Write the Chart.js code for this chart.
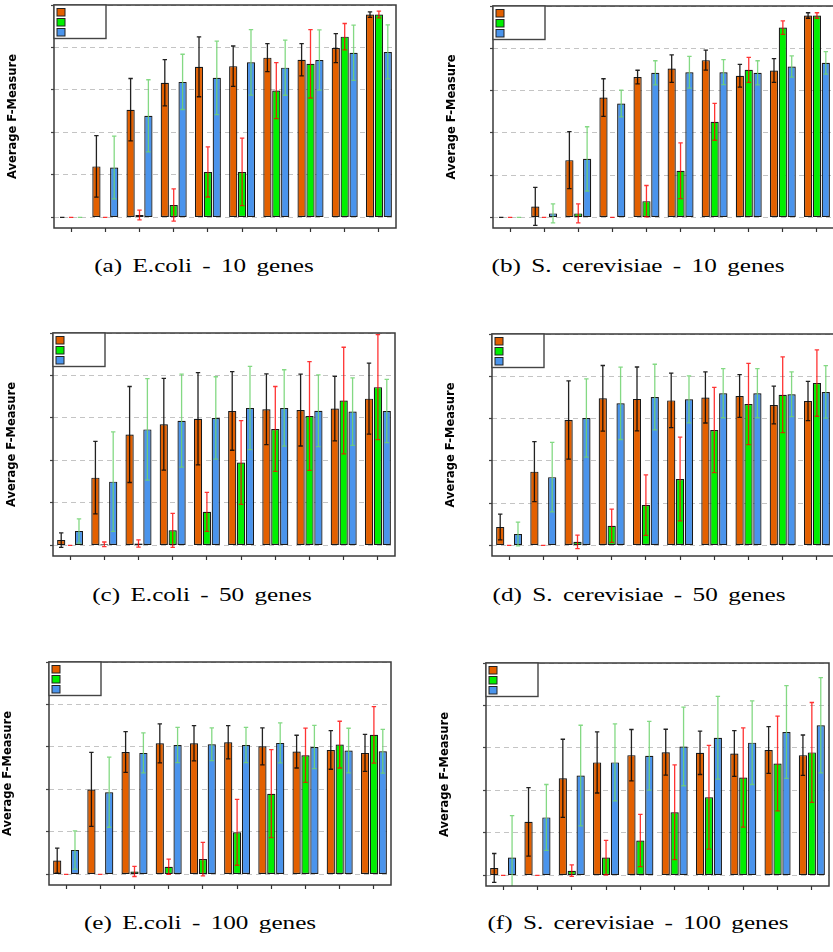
<!DOCTYPE html>
<html>
<head>
<meta charset="utf-8">
<script src="https://cdn.jsdelivr.net/npm/chart.js@4.4.1/dist/chart.umd.min.js"></script>
<style>
  html, body { margin: 0; padding: 0; background: #fff; width: 833px; height: 952px; overflow: hidden; }
  canvas { position: absolute; }
  .caption {
    position: absolute;
    font-family: "Liberation Serif", "Times New Roman", serif;
    font-size: 18.5px;
    line-height: 18.5px;
    word-spacing: 3px;
    color: #000;
    white-space: nowrap;
    transform: translateX(-50%) scaleX(1.36);
  }
</style>
</head>
<body>
<canvas id="pa"></canvas>
<canvas id="pb"></canvas>
<canvas id="pc"></canvas>
<canvas id="pd"></canvas>
<canvas id="pe"></canvas>
<canvas id="pf"></canvas>
<div class="caption" style="left:204px; top:257px;">(a) E.coli - 10 genes</div>
<div class="caption" style="left:638px; top:257px;">(b) S. cerevisiae - 10 genes</div>
<div class="caption" style="left:202px; top:586px;">(c) E.coli - 50 genes</div>
<div class="caption" style="left:639px; top:586px;">(d) S. cerevisiae - 50 genes</div>
<div class="caption" style="left:200px; top:914px;">(e) E.coli - 100 genes</div>
<div class="caption" style="left:638px; top:914px;">(f) S. cerevisiae - 100 genes</div>
<script>
// Ten test cases per panel (not labelled on the axis)
const categories = ['1', '2', '3', '4', '5', '6', '7', '8', '9', '10'];
const yTicks = [0, 0.2, 0.4, 0.6, 0.8, 1.0];
const yTitle = 'Average F-Measure';

// (a) E.coli - 10 genes
const ecoli10_A = [0, 0.24, 0.507, 0.634, 0.709, 0.712, 0.752, 0.742, 0.797, 0.955];
const ecoli10_A_sd = [0, 0.145, 0.147, 0.109, 0.141, 0.095, 0.066, 0.076, 0.068, 0.013];
const ecoli10_B = [0, 0, 0.011, 0.058, 0.214, 0.214, 0.597, 0.723, 0.851, 0.955];
const ecoli10_B_sd = [0, 0, 0.023, 0.076, 0.118, 0.159, 0.132, 0.161, 0.062, 0.016];
const ecoli10_C = [0, 0.235, 0.478, 0.638, 0.657, 0.73, 0.705, 0.741, 0.775, 0.779];
const ecoli10_C_sd = [0, 0.148, 0.17, 0.13, 0.173, 0.154, 0.13, 0.142, 0.13, 0.127];

// (b) S. cerevisiae - 10 genes
const yeast10_A = [0, 0.052, 0.271, 0.567, 0.664, 0.704, 0.744, 0.67, 0.695, 0.955];
const yeast10_A_sd = [0, 0.09, 0.135, 0.089, 0.032, 0.065, 0.047, 0.054, 0.056, 0.013];
const yeast10_B = [0, 0, 0.019, 0, 0.077, 0.221, 0.452, 0.698, 0.898, 0.955];
const yeast10_B_sd = [0, 0, 0.045, 0, 0.074, 0.132, 0.087, 0.059, 0.032, 0.013];
const yeast10_C = [0, 0.019, 0.277, 0.539, 0.684, 0.687, 0.687, 0.684, 0.714, 0.731];
const yeast10_C_sd = [0, 0.045, 0.152, 0.063, 0.057, 0.075, 0.059, 0.057, 0.05, 0.053];

// (c) E.coli - 50 genes
const ecoli50_A = [0.025, 0.319, 0.522, 0.57, 0.596, 0.633, 0.641, 0.637, 0.644, 0.691];
const ecoli50_A_sd = [0.034, 0.171, 0.226, 0.216, 0.217, 0.185, 0.167, 0.169, 0.152, 0.167];
const ecoli50_B = [0, 0.005, 0.009, 0.071, 0.158, 0.39, 0.548, 0.609, 0.682, 0.745];
const ecoli50_B_sd = [0, 0.011, 0.017, 0.08, 0.092, 0.197, 0.2, 0.256, 0.251, 0.247];
const ecoli50_C = [0.068, 0.3, 0.546, 0.587, 0.6, 0.647, 0.647, 0.634, 0.63, 0.633];
const ecoli50_C_sd = [0.057, 0.234, 0.239, 0.219, 0.194, 0.196, 0.18, 0.169, 0.159, 0.149];

// (d) S. cerevisiae - 50 genes
const yeast50_A = [0.087, 0.349, 0.593, 0.696, 0.693, 0.686, 0.7, 0.707, 0.664, 0.683];
const yeast50_A_sd = [0.061, 0.142, 0.185, 0.155, 0.151, 0.129, 0.121, 0.101, 0.089, 0.093];
const yeast50_B = [0, 0, 0.017, 0.093, 0.191, 0.314, 0.546, 0.669, 0.713, 0.768];
const yeast50_B_sd = [0, 0, 0.032, 0.079, 0.143, 0.198, 0.202, 0.192, 0.179, 0.157];
const yeast50_C = [0.054, 0.323, 0.603, 0.672, 0.702, 0.691, 0.72, 0.72, 0.715, 0.726];
const yeast50_C_sd = [0.056, 0.164, 0.185, 0.171, 0.155, 0.111, 0.116, 0.116, 0.106, 0.124];

// (e) E.coli - 100 genes
const ecoli100_A = [0.065, 0.4, 0.576, 0.617, 0.617, 0.622, 0.603, 0.578, 0.586, 0.572];
const ecoli100_A_sd = [0.059, 0.174, 0.096, 0.092, 0.083, 0.078, 0.087, 0.077, 0.091, 0.087];
const ecoli100_B = [0, 0, 0.014, 0.036, 0.072, 0.198, 0.38, 0.561, 0.611, 0.657];
const ecoli100_B_sd = [0, 0, 0.024, 0.036, 0.079, 0.155, 0.207, 0.128, 0.11, 0.133];
const ecoli100_C = [0.115, 0.387, 0.572, 0.609, 0.613, 0.609, 0.619, 0.6, 0.583, 0.58];
const ecoli100_C_sd = [0.09, 0.165, 0.094, 0.083, 0.077, 0.083, 0.094, 0.102, 0.105, 0.103];

// (f) S. cerevisiae - 100 genes
const yeast100_A = [0.035, 0.252, 0.457, 0.532, 0.566, 0.58, 0.577, 0.574, 0.59, 0.566];
const yeast100_A_sd = [0.068, 0.161, 0.184, 0.144, 0.121, 0.108, 0.102, 0.108, 0.11, 0.095];
const yeast100_B = [0, 0, 0.022, 0.084, 0.164, 0.297, 0.368, 0.461, 0.527, 0.579];
const yeast100_B_sd = [0, 0, 0.027, 0.081, 0.123, 0.223, 0.244, 0.234, 0.223, 0.235];
const yeast100_C = [0.084, 0.273, 0.47, 0.532, 0.563, 0.607, 0.648, 0.625, 0.675, 0.707];
const yeast100_C_sd = [0.197, 0.155, 0.237, 0.181, 0.162, 0.185, 0.195, 0.197, 0.218, 0.224];

// Series styling
const seriesStyle = [
  { fill: '#e36000', err: 'rgba(10,10,10,0.9)' },
  { fill: '#00f000', err: 'rgba(255,0,0,0.8)' },
  { fill: '#4a94ec', err: 'rgba(110,210,110,0.85)' }
];

const Y_AXIS_W = 48;   // room for the rotated axis title
const X_AXIS_H = 12;   // room for the category tick marks
const PAD_TOP = 4;
const PAD_RIGHT = 6;

// Error bars drawn from each dataset's values and standard deviations
const errorBars = {
  id: 'errorBars',
  afterDatasetsDraw(chart) {
    const { ctx, chartArea, scales: { y } } = chart;
    ctx.save();
    ctx.beginPath();
    ctx.rect(chartArea.left, chartArea.top, chartArea.width, chartArea.height);
    ctx.clip();
    chart.data.datasets.forEach((ds, i) => {
      const meta = chart.getDatasetMeta(i);
      meta.data.forEach((bar, j) => {
        const v = ds.data[j], e = ds.sd[j];
        const x = bar.x;
        const yt = y.getPixelForValue(v + e);
        const yb = y.getPixelForValue(v - e);
        ctx.strokeStyle = ds.errColor;
        ctx.lineWidth = 1.3;
        ctx.beginPath();
        ctx.moveTo(x, yt); ctx.lineTo(x, yb);
        ctx.moveTo(x - 2.2, yt); ctx.lineTo(x + 2.2, yt);
        ctx.moveTo(x - 2.2, yb); ctx.lineTo(x + 2.2, yb);
        ctx.stroke();
      });
    });
    ctx.restore();
  }
};

// Plot frame and the swatch-only legend box in the top-left corner
const frameAndKey = {
  id: 'frameAndKey',
  afterDraw(chart) {
    const { ctx, chartArea: a } = chart;
    ctx.save();
    ctx.strokeStyle = '#3a3a3a';
    ctx.lineWidth = 1.5;
    ctx.strokeRect(a.left, a.top, a.right - a.left, a.bottom - a.top);
    // key box
    const bx = a.left, by = a.top, bw = 52, bh = 33.5;
    ctx.fillStyle = '#fff';
    ctx.fillRect(bx, by, bw, bh);
    ctx.strokeStyle = '#444';
    ctx.lineWidth = 1.4;
    ctx.strokeRect(bx, by, bw, bh);
    chart.data.datasets.forEach((ds, i) => {
      ctx.fillStyle = ds.backgroundColor;
      ctx.fillRect(bx + 3, by + 3.5 + i * 10, 8, 7.5);
      ctx.strokeStyle = '#222';
      ctx.lineWidth = 1;
      ctx.strokeRect(bx + 3, by + 3.5 + i * 10, 8, 7.5);
    });
    ctx.restore();
  }
};

// Soft shadow around the bars
const barShadow = {
  id: 'barShadow',
  beforeDatasetsDraw(chart) {
    const ctx = chart.ctx;
    ctx.save();
    ctx.shadowColor = 'rgba(0,0,0,0.28)';
    ctx.shadowBlur = 2.5;
  },
  afterDatasetsDraw(chart) {
    chart.ctx.restore();
  }
};

function makePanel(id, box, series, sds) {
  const [L, T, R, B] = box;
  const cv = document.getElementById(id);
  const w = (R - L) + Y_AXIS_W + PAD_RIGHT;
  const h = (B - T) + PAD_TOP + X_AXIS_H;
  cv.width = w; cv.height = h;
  cv.style.left = (L - Y_AXIS_W) + 'px';
  cv.style.top = (T - PAD_TOP) + 'px';
  cv.style.width = w + 'px';
  cv.style.height = h + 'px';

  const datasets = series.map((vals, i) => ({
    label: 'Series ' + (i + 1),
    data: vals,
    sd: sds[i],
    errColor: seriesStyle[i].err,
    backgroundColor: seriesStyle[i].fill,
    borderColor: '#1c1c1c',
    borderWidth: 1.2,
    borderSkipped: false,
    categoryPercentage: 0.78,
    barPercentage: 0.92
  }));

  return new Chart(cv, {
    type: 'bar',
    data: { labels: categories, datasets },
    options: {
      responsive: false,
      animation: false,
      devicePixelRatio: 1,
      layout: { padding: { top: PAD_TOP, right: PAD_RIGHT, left: 0, bottom: 0 } },
      plugins: { legend: { display: false }, tooltip: { enabled: false } },
      scales: {
        x: {
          type: 'category',
          offset: true,
          ticks: { display: false },
          grid: {
            offset: false,
            drawOnChartArea: false,
            drawTicks: true,
            tickLength: 4,
            tickColor: '#333',
            tickWidth: 1.2
          },
          border: { display: false },
          afterFit(axis) { axis.height = X_AXIS_H; }
        },
        y: {
          min: -0.05,
          max: 1.0,
          afterBuildTicks(axis) { axis.ticks = yTicks.map(v => ({ value: v })); },
          ticks: { display: false },
          grid: {
            color: '#c4c4c4',
            lineWidth: 1,
            drawTicks: true,
            tickLength: 3,
            tickColor: '#444',
            tickWidth: 1.2
          },
          border: { display: false, dash: [5, 4] },
          title: {
            display: true,
            text: yTitle,
            color: '#000',
            padding: 0,
            font: { family: 'DejaVu Sans', size: 11.5, weight: 'bold' }
          },
          afterFit(axis) { axis.width = Y_AXIS_W; }
        }
      }
    },
    plugins: [barShadow, errorBars, frameAndKey]
  });
}

makePanel('pa', [54, 5, 396, 228],
  [ecoli10_A, ecoli10_B, ecoli10_C], [ecoli10_A_sd, ecoli10_B_sd, ecoli10_C_sd]);
makePanel('pb', [493, 6, 834, 228],
  [yeast10_A, yeast10_B, yeast10_C], [yeast10_A_sd, yeast10_B_sd, yeast10_C_sd]);
makePanel('pc', [53, 333, 395, 556],
  [ecoli50_A, ecoli50_B, ecoli50_C], [ecoli50_A_sd, ecoli50_B_sd, ecoli50_C_sd]);
makePanel('pd', [492, 334, 834, 556],
  [yeast50_A, yeast50_B, yeast50_C], [yeast50_A_sd, yeast50_B_sd, yeast50_C_sd]);
makePanel('pe', [49, 662, 391, 885],
  [ecoli100_A, ecoli100_B, ecoli100_C], [ecoli100_A_sd, ecoli100_B_sd, ecoli100_C_sd]);
makePanel('pf', [486, 663, 829, 886],
  [yeast100_A, yeast100_B, yeast100_C], [yeast100_A_sd, yeast100_B_sd, yeast100_C_sd]);
</script>
</body>
</html>
